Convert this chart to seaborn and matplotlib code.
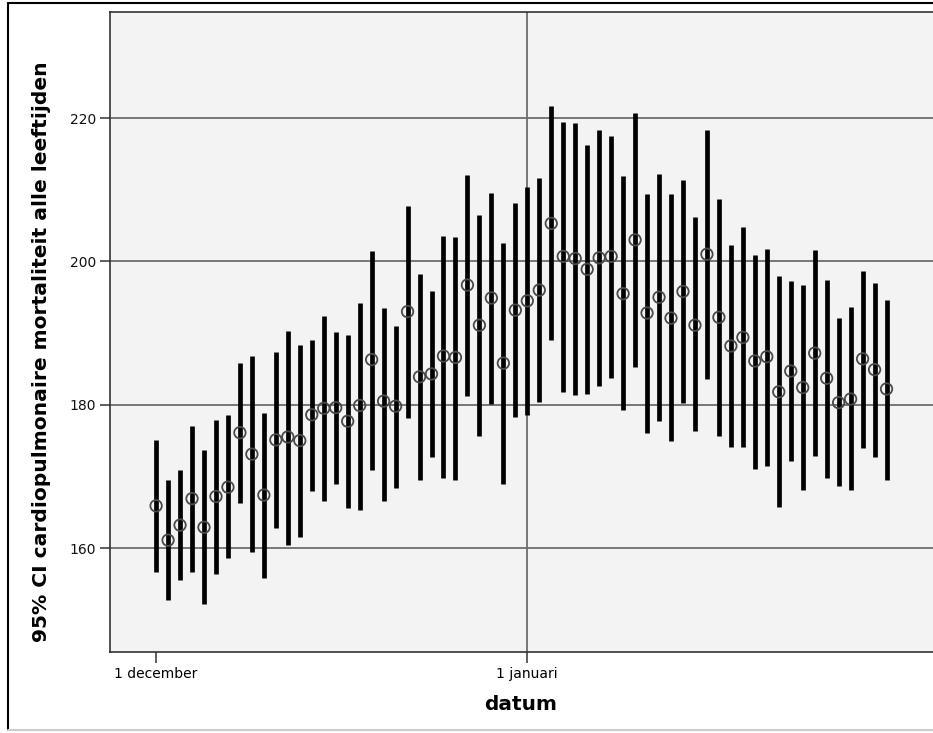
import numpy as np
import pandas as pd
import matplotlib
matplotlib.use('Agg')
import matplotlib.pyplot as plt
import seaborn as sns
from matplotlib.lines import Line2D

# daily values, 1 december .. 31 januari
dates = pd.date_range('2009-12-01', periods=62, freq='D')

mean = [165.9, 161.1, 163.2, 166.9, 162.9, 167.2, 168.5, 176.1, 173.1, 167.4,
        175.1, 175.5, 175.0, 178.6, 179.5, 179.6, 177.7, 179.9, 186.3, 180.5,
        179.8, 193.0, 183.9, 184.3, 186.8, 186.6, 196.7, 191.1, 194.9, 185.8,
        193.2, 194.5, 196.0, 205.3, 200.7, 200.4, 198.9, 200.5, 200.7, 195.5,
        203.0, 192.8, 195.0, 192.1, 195.8, 191.1, 201.0, 192.2, 188.2, 189.4,
        186.1, 186.7, 181.8, 184.7, 182.4, 187.2, 183.7, 180.3, 180.8, 186.4,
        184.9, 182.2]

upper = [175.1, 169.5, 170.9, 177.0, 173.7, 177.9, 178.6, 185.8, 186.8, 178.9,
         187.3, 190.3, 188.3, 189.1, 192.4, 190.2, 189.8, 194.2, 201.5, 193.5,
         191.0, 207.8, 198.2, 195.9, 203.6, 203.4, 212.1, 206.5, 209.5, 202.5,
         208.1, 210.4, 211.7, 221.7, 219.5, 219.3, 216.2, 218.3, 217.5, 211.9,
         220.7, 209.4, 212.2, 209.4, 211.4, 206.2, 218.4, 208.7, 202.3, 204.8,
         200.9, 201.8, 198.0, 197.3, 196.7, 201.6, 197.4, 192.1, 193.6, 198.6,
         197.0, 194.6]

lower = [156.7, 152.8, 155.6, 156.7, 152.2, 156.4, 158.6, 166.3, 159.4, 155.8,
         162.8, 160.4, 161.6, 168.0, 166.6, 169.0, 165.6, 165.3, 170.9, 166.6,
         168.4, 178.1, 169.5, 172.7, 169.8, 169.5, 181.2, 175.6, 180.1, 169.0,
         178.3, 178.6, 180.4, 189.0, 181.8, 181.4, 181.5, 182.6, 183.8, 179.3,
         185.2, 176.0, 177.7, 174.9, 180.2, 176.3, 183.6, 175.7, 174.1, 174.1,
         171.1, 171.5, 165.7, 172.1, 168.1, 172.8, 169.8, 168.6, 168.1, 173.9,
         172.7, 169.5]

y_ticks = [160, 180, 200, 220]
x_ticks = [pd.Timestamp('2009-12-01'), pd.Timestamp('2010-01-01')]
x_tick_labels = ['1 december', '1 januari']

df = pd.DataFrame({'datum': dates, 'mean': mean, 'lower': lower, 'upper': upper})

sns.set_style('ticks')
W, H = 933, 733
fig = plt.figure(figsize=(W / 100, H / 100), dpi=100)
ax = fig.add_axes([110 / W, 1 - 652 / H, (950 - 110) / W, (652 - 12) / H])
ax.set_facecolor('#f3f3f3')

ax.vlines(df['datum'], df['lower'], df['upper'], color='black', lw=3.4, zorder=3)
sns.scatterplot(data=df, x='datum', y='mean', ax=ax, marker='o', s=68,
                facecolors='none', edgecolor='#4a4a4a', linewidth=1.3, zorder=4)

day0 = pd.Timestamp('2009-12-01')
ax.set_xlim(day0 - pd.Timedelta(days=3.85), day0 + pd.Timedelta(days=66.3))
ax.set_ylim(145.5, 234.8)

ax.set_yticks(y_ticks)
ax.set_yticklabels([str(v) for v in y_ticks], fontsize=10, color='#111111')
ax.set_xticks(x_ticks)
ax.set_xticklabels(x_tick_labels, fontsize=10, color='#000000',
                   family=['Liberation Sans Narrow', 'DejaVu Sans'])
ax.tick_params(axis='y', length=7, width=1.1, color='#333333', pad=3)
ax.tick_params(axis='x', length=8, width=1.1, color='#333333', pad=3)

ax.set_axisbelow(True)
ax.yaxis.grid(True, color='#6e6e6e', lw=1.3)
ax.axvline(x_ticks[1], color='#6e6e6e', lw=1.3, zorder=1)

for s in ['left', 'bottom', 'top']:
    ax.spines[s].set_color('#333333')
    ax.spines[s].set_linewidth(1.2)
ax.spines['right'].set_visible(False)

ax.set_xlabel('')
ax.set_ylabel('')
fig.text(42 / W, 1 - 352 / H, '95% CI cardiopulmonaire mortaliteit alle leeftijden',
         rotation=90, ha='center', va='center', fontsize=14.6, fontweight='bold',
         color='black')
fig.text(521 / W, 1 - 705 / H, 'datum', ha='center', va='center',
         fontsize=14.5, fontweight='bold', color='black')

# outer frame: black left and top, light grey bottom
fig.add_artist(Line2D([8 / W, 8 / W], [1 - 3 / H, 1 - 730 / H],
                      transform=fig.transFigure, color='black', lw=1.5))
fig.add_artist(Line2D([8 / W, 1], [1 - 3 / H, 1 - 3 / H],
                      transform=fig.transFigure, color='black', lw=1.5))
fig.add_artist(Line2D([8 / W, 1], [1 - 730 / H, 1 - 730 / H],
                      transform=fig.transFigure, color='#cccccc', lw=1.5))

fig.savefig('out.png', dpi=100)
